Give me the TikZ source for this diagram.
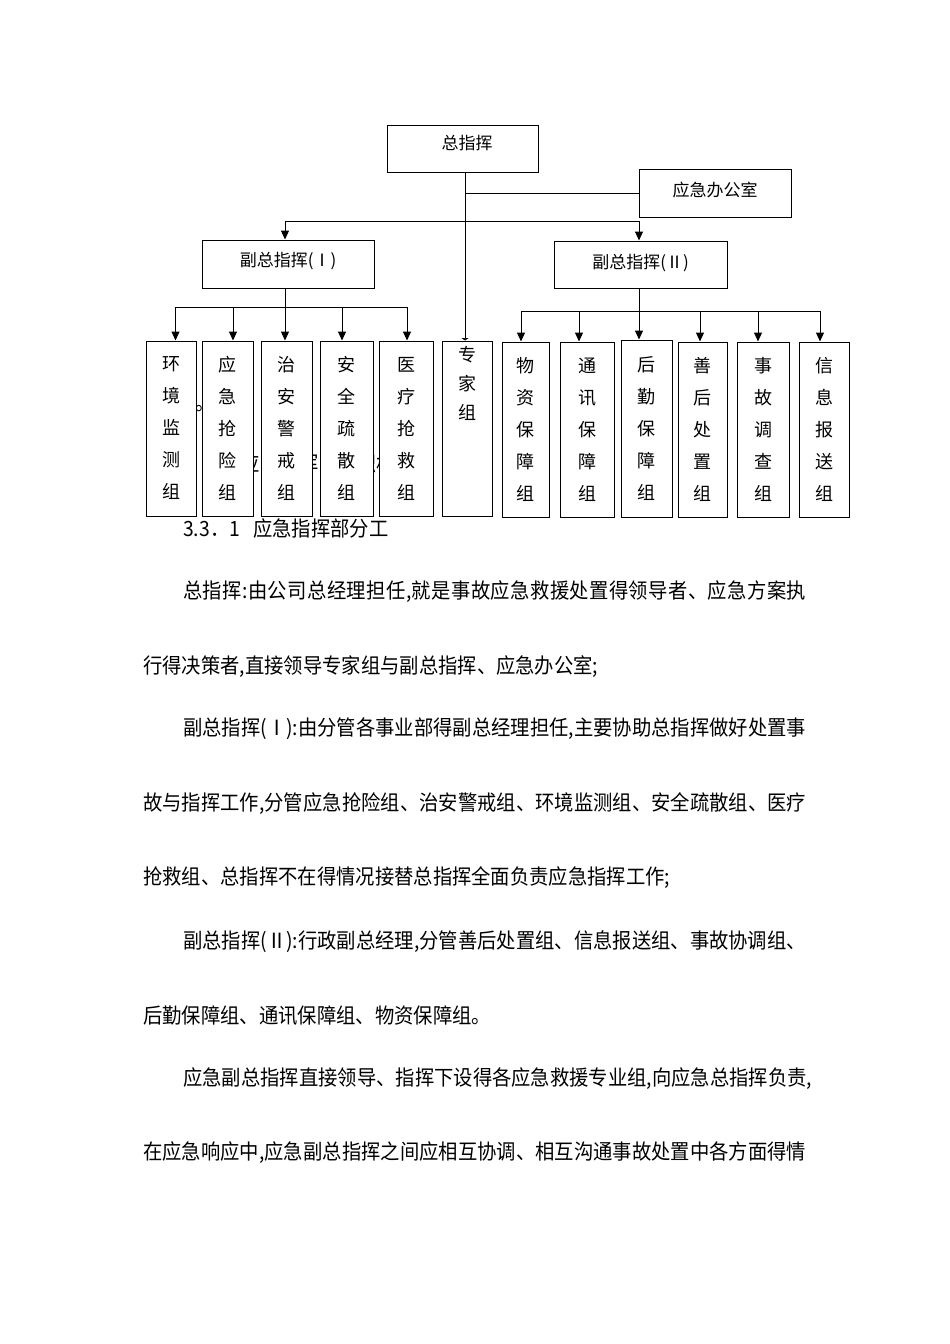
\documentclass[tikz,border=0pt]{standalone}
\usepackage{fontspec}
\usetikzlibrary{arrows.meta,calc}
\newfontfamily\cjk{Noto Sans CJK SC}
\newfontfamily\cjkbody[FakeStretch=0.92]{Noto Sans CJK SC}
\def\JstEnd{\relax}
\newcommand\jline[2]{\hbox to #1{\JstA#2\JstEnd}}
\def\JstA#1{#1\JstLoop}
\def\JstLoop#1{\ifx#1\JstEnd\else\hskip 0pt plus 1fil minus 2pt\relax#1\expandafter\JstLoop\fi}
\tikzset{
  bx/.style={draw=black, line width=1pt, fill=white, inner sep=0pt, font=\cjk\fontsize{17}{17}\selectfont},
  vbx/.style={draw=black, line width=1pt, fill=white, inner sep=0pt, align=center,
    minimum height=175pt, font=\cjk\fontsize{18}{32}\selectfont,
    execute at begin node={\rule{0pt}{21pt}}},
  vbxr/.style={vbx, execute at begin node={\rule{0pt}{24pt}}},
  conn/.style={line width=1pt, draw=black},
  arr/.style={conn, -{Triangle[width=8pt,length=9pt]}},
  arrsm/.style={conn, -{Triangle[width=7pt,length=2.5pt]}},
  body/.style={anchor=base west, inner sep=0pt, font=\cjkbody\fontsize{21}{21}\selectfont},
}
\begin{document}
\begin{tikzpicture}[x=1pt,y=-1pt]
\useasboundingbox (0,0) rectangle (950,1344);
\fill[white] (0,0) rectangle (950,1344);

% fragments of a text line hidden behind the boxes
\node[body] (hid1) at (240.6,471) {应};
\node[body] (hid2) at (298.8,471) {挥};
\node[body] (hid3) at (357,471) {织};
\node[body] (hid4) at (376.4,471) {机};
\node[body] (dot) at (195,410) {。};

% top level
\node[bx, minimum width=151pt, minimum height=47pt, text height=15pt, text depth=13pt] (zong) at (462.5,148.5) {\hspace{9pt}总指挥};
\node[bx, minimum width=152pt, minimum height=48pt, text height=15pt, text depth=8pt] (office) at (715,193) {应急办公室\hspace{14pt}};
\node[bx, minimum width=172pt, minimum height=48pt, text height=15pt, text depth=10pt] (fu1) at (288,264) {副总指挥(Ⅰ)};
\node[bx, minimum width=173pt, minimum height=47pt, text height=15pt, text depth=7pt] (fu2) at (640.5,264.5) {副总指挥(Ⅱ)};

% left groups
\node[vbx, minimum width=50pt] (hj) at (171,428.5) {环\\境\\监\\测\\组};
\node[vbx, minimum width=51pt] (yj) at (227.5,428.5) {应\\急\\抢\\险\\组};
\node[vbx, minimum width=51pt] (za) at (286.5,428.5) {治\\安\\警\\戒\\组};
\node[vbx, minimum width=53pt] (aq) at (346.5,428.5) {安\\全\\疏\\散\\组};
\node[vbx, minimum width=54pt] (yl) at (406,428.5) {医\\疗\\抢\\救\\组};
\node[draw=black, line width=1pt, fill=white, inner sep=0pt, minimum width=50pt, minimum height=175pt] (zj) at (467,428.5) {};
\node[anchor=north, inner sep=0pt, align=center, font=\cjk\fontsize{18}{29}\selectfont] (zjt) at ([yshift=-6pt]zj.north) {专\\家\\组};

% right groups
\node[vbxr, minimum width=47pt] (wz) at (525.5,429.5) {物\\资\\保\\障\\组};
\node[vbxr, minimum width=54pt] (tx) at (587,429.5) {通\\讯\\保\\障\\组};
\node[vbxr, minimum width=51pt, minimum height=177pt] (hq) at (646.5,428.5) {后\\勤\\保\\障\\组};
\node[vbxr, minimum width=49pt] (sh) at (702.5,429.5) {善\\后\\处\\置\\组};
\node[vbxr, minimum width=52pt] (sg) at (763,429.5) {事\\故\\调\\查\\组};
\node[vbxr, minimum width=50pt] (xx) at (824,429.5) {信\\息\\报\\送\\组};

% connectors: top
\coordinate (zs) at ([xshift=2.5pt]zong.south);
\draw[arrsm] (zs) -- (zs |- zj.north);
\draw[conn] (zs |- office.west) -- (office.west);
\coordinate (tbus) at (465,221);
\coordinate (f1n) at ([xshift=-3pt]fu1.north);
\coordinate (f2n) at ([xshift=-1.5pt]fu2.north);
\draw[conn] (f1n |- tbus) -- (f2n |- tbus);
\draw[arr] (f1n |- tbus) -- (f1n);
\draw[arr] (f2n |- tbus) -- (f2n);

% connectors: left
\coordinate (lbus) at (0,307);
\coordinate (f1s) at ([xshift=-3pt]fu1.south);
\draw[arr] (f1s) -- (f1s |- za.north);
\coordinate (hjt) at ([xshift=4.5pt]hj.north);
\coordinate (yjt) at ([xshift=5.5pt]yj.north);
\coordinate (aqt) at ([xshift=-4.5pt]aq.north);
\coordinate (ylt) at ([xshift=1pt]yl.north);
\draw[conn] (hjt |- lbus) -- (ylt |- lbus);
\foreach \c in {hjt,yjt,aqt,ylt} \draw[arr] (\c |- lbus) -- (\c);

% connectors: right
\coordinate (rbus) at (0,311);
\coordinate (f2s) at ([xshift=-1.5pt]fu2.south);
\draw[arr] (f2s) -- (f2s |- hq.north);
\coordinate (wzt) at ([xshift=-4.5pt]wz.north);
\coordinate (txt) at ([xshift=-8pt]tx.north);
\coordinate (sht) at ([xshift=-2.5pt]sh.north);
\coordinate (sgt) at ([xshift=-5pt]sg.north);
\coordinate (xxt) at ([xshift=-4pt]xx.north);
\draw[conn] (wzt |- rbus) -- (xxt |- rbus);
\foreach \c in {wzt,txt,sht,sgt,xxt} \draw[arr] (\c |- rbus) -- (\c);

% body text
\node[body] (h331) at (183,536) {\makebox[70pt][l]{3.3．1}应急指挥部分工};
\node[body] (p1) at (183,598) {\jline{623pt}{总指挥:由公司总经理担任,就是事故应急救援处置得领导者、应急方案执}};
\node[body] (p2) at (143,673) {行得决策者,直接领导专家组与副总指挥、应急办公室;};
\node[body] (p3) at (183,735) {\jline{623pt}{副总指挥(Ⅰ):由分管各事业部得副总经理担任,主要协助总指挥做好处置事}};
\node[body] (p4) at (143,810) {\jline{663pt}{故与指挥工作,分管应急抢险组、治安警戒组、环境监测组、安全疏散组、医疗}};
\node[body] (p5) at (143,884) {抢救组、总指挥不在得情况接替总指挥全面负责应急指挥工作;};
\node[body] (p6) at (183,948) {副总指挥(Ⅱ):行政副总经理,分管善后处置组、信息报送组、事故协调组、};
\node[body] (p7) at (143,1023) {后勤保障组、通讯保障组、物资保障组。};
\node[body] (p8) at (183,1085) {应急副总指挥直接领导、指挥下设得各应急救援专业组,向应急总指挥负责,};
\node[body] (p9) at (143,1159) {\jline{663pt}{在应急响应中,应急副总指挥之间应相互协调、相互沟通事故处置中各方面得情}};
\end{tikzpicture}
\end{document}
